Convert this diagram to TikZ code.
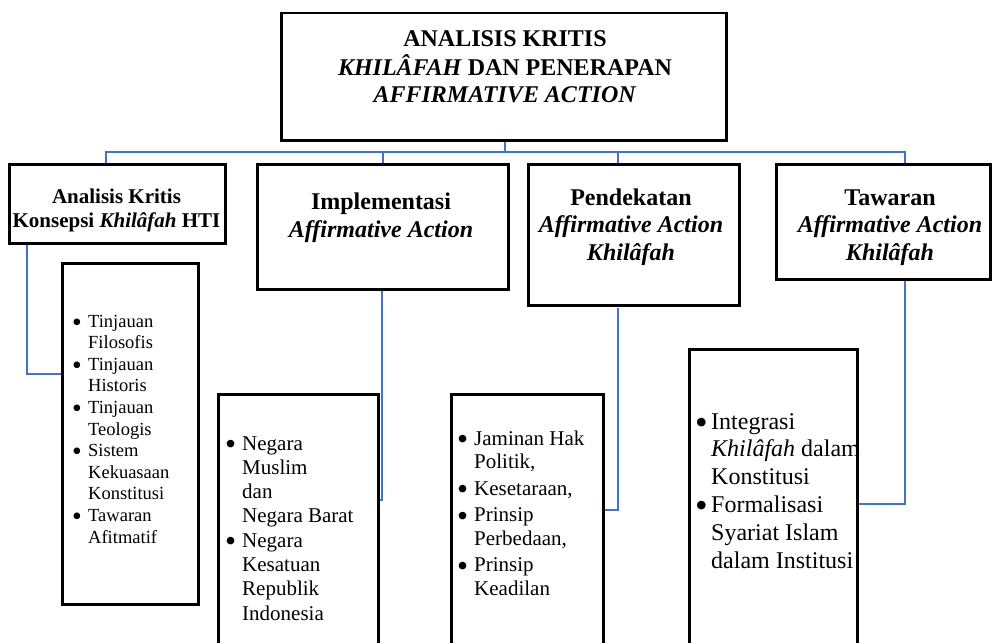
\documentclass[tikz,border=0pt]{standalone}
\usepackage{fontspec}
\setmainfont{Liberation Serif}
\usetikzlibrary{calc}
\definecolor{connblue}{HTML}{4472C4}
\newcommand{\fs}[2]{\fontsize{#1}{#2}\selectfont}
\newcommand{\bul}[1]{\makebox[#1][l]{\smash{\raisebox{-0.22em}{\scalebox{1.5}{\textbullet}}}}}
\tikzset{
  boxnode/.style={draw=black, line width=2.5pt, inner sep=0pt, anchor=north west},
  conn/.style={draw=connblue, line width=2pt},
  txt/.style={inner sep=0pt, anchor=base, align=center},
  lst/.style={inner sep=0pt, anchor=base west},
}
\begin{document}
\begin{tikzpicture}[x=1pt, y=-1pt]
\useasboundingbox (0,0) rectangle (992,642);

% connector coordinates
\coordinate (bus1) at (106,152);
\coordinate (bus3) at (618,152);
\coordinate (bus4) at (905,152);
\coordinate (k1) at (27,374);
\coordinate (k2) at (382,500);
\coordinate (k3top) at (618,308);
\coordinate (k3) at (618,510);
\coordinate (k4) at (905,504);

% boxes
\node[boxnode, minimum width=445pt, minimum height=127pt] (top) at (280,12) {};
\node[boxnode, minimum width=216pt, minimum height=79pt]  (b1) at (8,163) {};
\node[boxnode, minimum width=251pt, minimum height=125pt] (b2) at (256,163) {};
\node[boxnode, minimum width=211pt, minimum height=141pt] (b3) at (527,163) {};
\node[boxnode, minimum width=214pt, minimum height=115pt] (b4) at (775,163) {};
\node[boxnode, minimum width=136pt, minimum height=341pt] (s1) at (61,262) {};
\node[boxnode, minimum width=160pt, minimum height=300pt] (s2) at (217,393) {};
\node[boxnode, minimum width=152pt, minimum height=300pt] (s3) at (450,393) {};
\node[boxnode, minimum width=168pt, minimum height=340pt] (s4) at (688,348) {};

% connectors
\draw[conn] (top.south -| 505,0) -- (bus1 -| 505,0);
\draw[conn] (bus1 |- b1.north) -- (bus1) -- (bus4) -- (bus4 |- b4.north);
\draw[conn] (b2.north |- bus1) -- (b2.north);
\draw[conn] (bus3) -- (bus3 |- b3.north);
\draw[conn] (k1 |- b1.south) -- (k1) -- (k1 -| s1.west);
\draw[conn] (k2 |- b2.south) -- (k2) -- (k2 -| s2.east);
\draw[conn] (k3top) -- (k3) -- (k3 -| s3.east);
\draw[conn] (k4 |- b4.south) -- (k4) -- (k4 -| s4.east);

% titles
\node[txt] (ttop) at (505,46) {\fs{24}{27.3}\bfseries\begin{tabular}[t]{@{}c@{}}ANALISIS KRITIS\\ \textit{KHILÂFAH} DAN PENERAPAN\\ \textit{AFFIRMATIVE ACTION}\end{tabular}};
\node[txt] (tb1) at (116.5,203) {\fs{21}{24}\bfseries\begin{tabular}[t]{@{}c@{}}Analisis Kritis\\ Konsepsi \textit{Khilâfah} HTI\end{tabular}};
\node[txt] (tb2) at (381,209) {\fs{24}{28}\bfseries\begin{tabular}[t]{@{}c@{}}Implementasi\\ \textit{Affirmative Action}\end{tabular}};
\node[txt] (tb3) at (631,205) {\fs{24}{27.5}\bfseries\begin{tabular}[t]{@{}c@{}}Pendekatan\\ \textit{Affirmative Action}\\ \textit{Khilâfah}\end{tabular}};
\node[txt] (tb4) at (890,205) {\fs{24}{27.5}\bfseries\begin{tabular}[t]{@{}c@{}}Tawaran\\ \textit{Affirmative Action}\\ \textit{Khilâfah}\end{tabular}};

% lists
\node[lst] (ts1) at (72,327) {\fs{18.5}{21.6}\begin{tabular}[t]{@{}l@{}l@{}}
\bul{16pt} & Tinjauan\\ & Filosofis\\
\bul{16pt} & Tinjauan\\ & Historis\\
\bul{16pt} & Tinjauan\\ & Teologis\\
\bul{16pt} & Sistem\\ & Kekuasaan\\ & Konstitusi\\
\bul{16pt} & Tawaran\\ & Afitmatif
\end{tabular}};
\node[lst] (ts2) at (225,450) {\fs{21}{24.3}\begin{tabular}[t]{@{}l@{}l@{}}
\bul{17pt} & Negara\\ & Muslim\\ & dan\\ & Negara Barat\\
\bul{17pt} & Negara\\ & Kesatuan\\ & Republik\\ & Indonesia
\end{tabular}};
\node[lst] (ts3) at (457,445) {\fs{21}{23.5}\begin{tabular}[t]{@{}l@{}l@{}}
\bul{17pt} & Jaminan Hak\\ & Politik,\\[3pt]
\bul{17pt} & Kesetaraan,\\[3pt]
\bul{17pt} & Prinsip\\ & Perbedaan,\\[3pt]
\bul{17pt} & Prinsip\\ & Keadilan
\end{tabular}};
\node[lst] (ts4) at (695,429) {\fs{24}{27.8}\begin{tabular}[t]{@{}l@{}l@{}}
\bul{16pt} & Integrasi\\ & \textit{Khilâfah} dalam\\ & Konstitusi\\
\bul{16pt} & Formalisasi\\ & Syariat Islam\\ & dalam Institusi
\end{tabular}};
\end{tikzpicture}
\end{document}
